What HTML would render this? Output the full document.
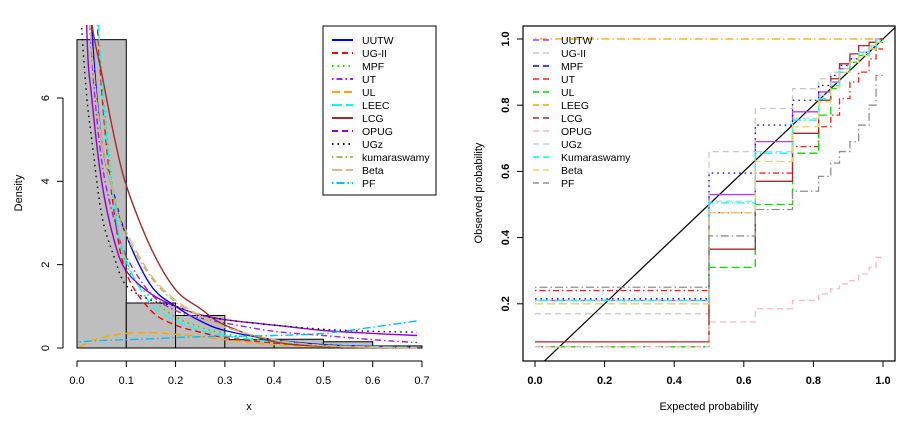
<!DOCTYPE html>
<html><head><meta charset="utf-8"><style>
body{margin:0;background:#fff}
svg{display:block;font-family:"Liberation Sans",Arial,sans-serif}
</style></head><body>
<svg id="c" width="916" height="422" viewBox="0 0 916 422">
<defs>
<clipPath id="lclip"><rect x="40" y="25" width="400" height="340"/></clipPath>
<clipPath id="rclip"><rect x="523" y="26" width="372" height="335"/></clipPath>
</defs>
<g id="left"></g>
<g id="right"></g>
</svg>
<script>
// ---- Left: histogram + fitted densities ----
const binEdges=[0,0.1,0.2,0.3,0.4,0.5,0.6,0.7];
const binHeights=[7.4,1.08,0.78,0.2,0.21,0.15,0.05];
const xGrid=[0.005,0.01,0.02,0.03,0.05,0.075,0.1,0.15,0.2,0.25,0.3,0.4,0.5,0.6,0.69];
const densUUTW=[25,18,11,7.7,5.0,3.7,2.7,1.5,1.0,0.65,0.42,0.2,0.08,0.04,0.02];
const densUGII=[40,30,16,10.5,6.2,3.3,1.8,0.9,0.55,0.38,0.25,0.12,0.05,0.02,0.01];
const densMPF=[40,30,16,10.5,6.6,3.6,2.0,1.2,0.75,0.5,0.35,0.15,0.07,0.03,0.02];
const densUT=[30,20,10,7.0,4.5,3.1,2.2,1.3,0.9,0.72,0.6,0.4,0.3,0.2,0.13];
const densUL=[0.03,0.06,0.12,0.18,0.25,0.31,0.35,0.37,0.33,0.27,0.2,0.08,0.03,0.01,0.005];
const densLEEC=[40,30,16,11,6.5,3.5,2.1,1.05,0.65,0.43,0.3,0.14,0.06,0.03,0.02];
const densLCG=[25,15,9.5,7.8,6.6,5.1,3.9,2.4,1.4,0.95,0.55,0.15,0.04,0.01,0.005];
const densOPUG=[20,13,7.6,6.0,4.0,2.6,1.85,1.3,1.0,0.8,0.68,0.55,0.42,0.35,0.3];
const densUGz=[9,7.6,6.0,5.0,3.2,2.2,1.5,1.15,1.0,0.8,0.68,0.55,0.45,0.4,0.38];
const densKum=[25,16,9.5,7.2,5.0,3.6,2.7,1.7,1.1,0.75,0.5,0.2,0.05,0.02,0.01];
const densBeta=[25,16,9.5,7.2,5.0,3.7,2.8,1.75,1.15,0.78,0.5,0.2,0.06,0.02,0.01];
const densPF=[0.15,0.15,0.16,0.17,0.18,0.19,0.2,0.22,0.25,0.27,0.28,0.3,0.35,0.5,0.65];
const leftSeries=[
 ["UUTW",densUUTW,"#0000ff",""],["UG-II",densUGII,"#ff0000","6,4"],["MPF",densMPF,"#00ee00","1.5,4"],
 ["UT",densUT,"#a020f0","1.5,3,6,3"],["UL",densUL,"#ffa500","8,4"],["LEEC",densLEEC,"#00ffff","10,4"],
 ["LCG",densLCG,"#a52a2a",""],["OPUG",densOPUG,"#9400d3",""],["UGz",densUGz,"#000000","1.5,4"],
 ["kumaraswamy",densKum,"#b5b56a","1.5,3,6,3"],["Beta",densBeta,"#deb887","10,4"],["PF",densPF,"#00bfff","1.5,3,8,3"]];
const leftLegendStyles=[["UUTW","#0000ff",""],["UG-II","#ff0000","6,4"],["MPF","#00ee00","1.5,4"],["UT","#a020f0","1.5,3,6,3"],["UL","#ffa500","8,4"],["LEEC","#00ffff","10,4"],["LCG","#a52a2a",""],["OPUG","#9400d3","6,4"],["UGz","#000000","1.5,4"],["kumaraswamy","#b5b56a","1.5,3,6,3"],["Beta","#deb887","10,4"],["PF","#00bfff","1.5,3,8,3"]];
const xTicksL=[0,0.1,0.2,0.3,0.4,0.5,0.6,0.7];
const yTicksL=[0,2,4,6];

// ---- Right: P-P plot ----
const stepBreaks=[0,0.5,0.633,0.74,0.815,0.85,0.875,0.905,0.93,0.96,0.98,1.0];
const ppUUTW=[0.21,0.53,0.69,0.78,0.84,0.87,0.91,0.93,0.96,0.98,1.0];
const ppUGII=[0.17,0.66,0.79,0.85,0.88,0.9,0.92,0.94,0.96,0.98,1.0];
const ppMPF=[0.215,0.595,0.74,0.815,0.86,0.89,0.92,0.94,0.96,0.98,1.0];
const ppUT=[0.24,0.475,0.595,0.675,0.735,0.77,0.82,0.87,0.9,0.94,0.97];
const ppUL=[0.07,0.31,0.50,0.655,0.77,0.85,0.9,0.93,0.95,0.97,0.99];
const ppLEEG=[1,1,1,1,1,1,1,1,1,1,1];
const ppLCG=[0.085,0.365,0.57,0.715,0.815,0.88,0.925,0.955,0.98,0.99,1.0];
const ppOPUG=[0.07,0.145,0.185,0.21,0.23,0.245,0.26,0.27,0.29,0.31,0.34];
const ppUGz=[0.21,0.51,0.66,0.76,0.83,0.87,0.91,0.93,0.96,0.98,1.0];
const ppKum=[0.21,0.505,0.655,0.755,0.82,0.86,0.9,0.93,0.955,0.975,0.995];
const ppBeta=[0.2,0.475,0.63,0.735,0.81,0.855,0.9,0.93,0.95,0.97,0.99];
const ppPF=[0.25,0.405,0.485,0.54,0.585,0.625,0.66,0.69,0.74,0.8,0.89];
const rightSeries=[
 ["UUTW",ppUUTW,"#b040ff",""],["UG-II",ppUGII,"#c8c8c8","6,4"],["MPF",ppMPF,"#0000ff","1.5,4"],
 ["UT",ppUT,"#ff2020","1.5,3,6,3"],["UL",ppUL,"#00dd00","8,4"],["LEEG",ppLEEG,"#ffa500","1.5,3,8,3"],
 ["LCG",ppLCG,"#a52a2a",""],["OPUG",ppOPUG,"#ffb6c1","6,4"],["UGz",ppUGz,"#add8e6","6,4"],
 ["Kumaraswamy",ppKum,"#00ffff","1.5,3,8,3"],["Beta",ppBeta,"#f0d060","8,4"],["PF",ppPF,"#909090","1.5,3,8,3"]];
const rightLegend=[["UUTW","#b040ff","6,4"],["UG-II","#c8c8c8","6,4"],["MPF","#0000ff","6,4"],["UT","#ff2020","6,4"],["UL","#00dd00","6,4"],["LEEG","#ffa500","6,4"],["LCG","#a52a2a","6,4"],["OPUG","#ffb6c1","6,4"],["UGz","#add8e6","6,4"],["Kumaraswamy","#00ffff","6,4"],["Beta","#f0d060","6,4"],["PF","#909090","6,4"]];
const xTicksR=[0,0.2,0.4,0.6,0.8,1.0];
const yTicksR=[0.2,0.4,0.6,0.8,1.0];

const NS="http://www.w3.org/2000/svg";
function mk(parent,tag,attrs){const e=document.createElementNS(NS,tag);for(const k in attrs)e.setAttribute(k,attrs[k]);parent.appendChild(e);return e;}

// Left scales
const lx=v=>77+v*(345/0.7);
const ly=v=>348-v*(250/6);
const L=document.getElementById('left');
const hist=mk(L,'g',{});


for(let i=0;i<binHeights.length;i++){
 const r=mk(hist,'rect',{x:lx(binEdges[i]),y:ly(binHeights[i]),width:lx(binEdges[i+1])-lx(binEdges[i]),height:ly(0)-ly(binHeights[i]),fill:'#bebebe',stroke:'#000','stroke-width':1});
 
 
}
function smoothPath(pts){
 let d='M'+pts[0][0]+','+pts[0][1];
 for(let i=0;i<pts.length-1;i++){
  const p0=pts[i-1]||pts[i],p1=pts[i],p2=pts[i+1],p3=pts[i+2]||p2;
  const c1=[p1[0]+(p2[0]-p0[0])/6,p1[1]+(p2[1]-p0[1])/6],c2=[p2[0]-(p3[0]-p1[0])/6,p2[1]-(p3[1]-p1[1])/6];
  d+=' C'+c1+' '+c2+' '+p2;
 }
 return d;
}
const curves=mk(L,'g',{'clip-path':'url(#lclip)'});


leftSeries.forEach(s=>{
 const pts=xGrid.map((x,i)=>[lx(x),ly(Math.min(s[1][i],20))]);
 const p=mk(curves,'path',{d:smoothPath(pts),fill:'none',stroke:s[2],'stroke-width':1.4,'stroke-dasharray':s[3]});
 
 
});
// left axes
const lax=mk(L,'g',{stroke:'#000','stroke-width':1});


mk(lax,'line',{x1:lx(0),x2:lx(0.7),y1:361,y2:361});
xTicksL.forEach(t=>{mk(lax,'line',{x1:lx(t),x2:lx(t),y1:361,y2:367});
 const tx=mk(L,'text',{x:lx(t),y:384,'font-size':11,'text-anchor':'middle'});tx.textContent=t.toFixed(1);
 
 });
mk(lax,'line',{x1:63,x2:63,y1:ly(0),y2:ly(6)});
yTicksL.forEach(t=>{mk(lax,'line',{x1:57,x2:63,y1:ly(t),y2:ly(t)});
 const tx=mk(L,'text',{x:49,y:ly(t),'font-size':11,'text-anchor':'middle',transform:`rotate(-90 49 ${ly(t)})`});tx.textContent=t;
 
 });
let t1=mk(L,'text',{x:249,y:410,'font-size':11,'text-anchor':'middle'});t1.textContent='x';


t1=mk(L,'text',{x:22,y:193,'font-size':11,'text-anchor':'middle',transform:'rotate(-90 22 193)'});t1.textContent='Density';


// left legend
const lleg=mk(L,'g',{});


mk(lleg,'rect',{x:323,y:26,width:113,height:169,fill:'#fff',stroke:'#000'});
leftLegendStyles.forEach((s,i)=>{const y=40+13*i;
 mk(lleg,'line',{x1:332,x2:353,y1:y,y2:y,stroke:s[1],'stroke-width':2,'stroke-dasharray':s[2]});
 const tx=mk(lleg,'text',{x:362,y:y+4,'font-size':10.5});tx.textContent=s[0];
 
 });

// Right scales
const rx=v=>535+v*348;
const ry=v=>370-v*331;
const R=document.getElementById('right');
const steps=mk(R,'g',{'clip-path':'url(#rclip)'});


const diag=mk(steps,'line',{x1:rx(0),y1:ry(0),x2:rx(1.05),y2:ry(1.05),stroke:'#000','stroke-width':1.2});


rightSeries.forEach(s=>{
 let d='';
 s[1].forEach((v,i)=>{d+=(i?'L':'M')+rx(stepBreaks[i])+','+ry(v)+'L'+rx(stepBreaks[i+1])+','+ry(v);});
 const p=mk(steps,'path',{d:d,fill:'none',stroke:s[2],'stroke-width':1.3,'stroke-dasharray':s[3]});
 
 
});
mk(R,'rect',{x:523,y:26,width:372,height:335,fill:'none',stroke:'#000','stroke-width':1.2});
xTicksR.forEach(t=>{mk(R,'line',{x1:rx(t),x2:rx(t),y1:361,y2:367,stroke:'#000'});
 const tx=mk(R,'text',{x:rx(t),y:384,'font-size':11,'font-weight':'bold','text-anchor':'middle'});tx.textContent=t.toFixed(1);
 
 });
yTicksR.forEach(t=>{mk(R,'line',{x1:517,x2:523,y1:ry(t),y2:ry(t),stroke:'#000'});
 const tx=mk(R,'text',{x:509,y:ry(t),'font-size':11,'font-weight':'bold','text-anchor':'middle',transform:`rotate(-90 509 ${ry(t)})`});tx.textContent=t.toFixed(1);
 
 });
t1=mk(R,'text',{x:709,y:410,'font-size':11,'text-anchor':'middle'});t1.textContent='Expected probability';


t1=mk(R,'text',{x:482,y:193,'font-size':11,'text-anchor':'middle',transform:'rotate(-90 482 193)'});t1.textContent='Observed probability';


const rleg=mk(R,'g',{});


rightLegend.forEach((s,i)=>{const y=40+13*i;
 mk(rleg,'line',{x1:533,x2:549,y1:y,y2:y,stroke:s[1],'stroke-width':1.5,'stroke-dasharray':s[2]});
 const tx=mk(rleg,'text',{x:561,y:y+4,'font-size':10.5});tx.textContent=s[0];
 
 });
</script>
</body></html>
